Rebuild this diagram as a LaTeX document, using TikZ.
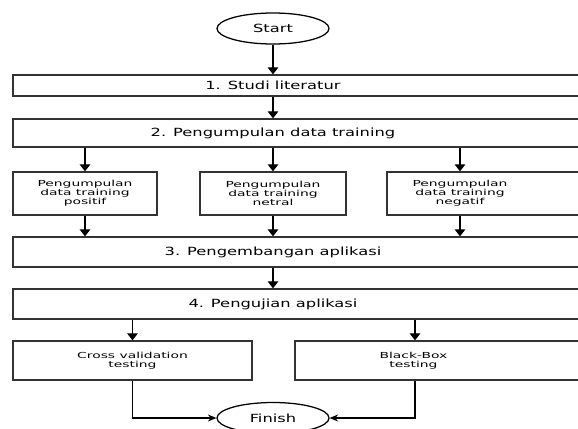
\documentclass[tikz,border=0pt]{standalone}
\usepackage{fontspec}
\newfontfamily\bigfont[FakeStretch=1.45]{DejaVu Sans}
\newfontfamily\smallfont[FakeStretch=1.67]{DejaVu Sans}
\usetikzlibrary{arrows.meta, positioning, shapes.geometric, calc}

\begin{document}
\begin{tikzpicture}[x=0.025cm, y=-0.025cm, >={Triangle[width=7.5pt,length=5pt]}, line width=0.9pt]
            \tikzset{terminal/.style={ellipse, draw, minimum width=2.8cm, minimum height=0.775cm, inner sep=0pt, font={\bigfont\fontsize{8}{9.6}\selectfont}}}
            \tikzset{stage/.style={rectangle, draw=black!80, minimum width=14.675cm, inner sep=0pt}}
            \tikzset{stagetext/.style={font={\bigfont\fontsize{8}{9.6}\selectfont}, xshift=-0.8375cm}}
            \tikzset{subbox/.style={rectangle, draw=black!80, minimum height=1.075cm, inner sep=0pt, align=center, font={\smallfont\fontsize{5.9}{6.3}\selectfont}}}
            \tikzset{testbox/.style={rectangle, draw=black!80, minimum height=0.975cm, inner sep=0pt, align=center, font={\smallfont\fontsize{5.9}{6.3}\selectfont}}}
            \useasboundingbox (0,0) rectangle (578,428);
            \clip (0,0) rectangle (578,428);
            \node[terminal] (st) at (273,28.5) {Start};
            \node[stage, minimum height=0.525cm, label={[stagetext]center:1. Studi literatur}] (s1) at (306.5,85.5) {};
            \node[stage, minimum height=0.7cm, label={[stagetext]center:2. Pengumpulan data training}] (s2) at (306.5,133) {};
            \node[subbox, minimum width=3.6cm] (p1) at (85,193.5) {Pengumpulan\\data training\\positif};
            \node[subbox, minimum width=3.65cm] (p2) at (273,193.5) {Pengumpulan\\data training\\netral};
            \node[subbox, minimum width=5.325cm, label={[xshift=-0.8375cm, align=center, font={\smallfont\fontsize{5.9}{6.3}\selectfont}]center:Pengumpulan\\data training\\negatif}] (p3) at (493.5,193.5) {};
            \node[stage, minimum height=0.75cm, label={[stagetext]center:3. Pengembangan aplikasi}] (s3) at (306.5,252) {};
            \node[stage, minimum height=0.75cm, label={[stagetext]center:4. Pengujian aplikasi}] (s4) at (306.5,304) {};
            \node[testbox, minimum width=5.975cm] (b1) at (132.5,360.5) {Cross validation\\testing};
            \node[testbox, minimum width=7.625cm, label={[xshift=-0.85cm, align=center, font={\smallfont\fontsize{5.9}{6.3}\selectfont}]center:Black-Box\\testing}] (b2) at (447.5,360.5) {};
            \node[terminal] (fin) at (273,418) {Finish};
            \coordinate (c3) at (460,0);
            \coordinate (c4) at (415,0);
            \draw[->] (st) -- (s1.north -| st);
            \draw[->] (s1.south -| st) -- (s2.north -| st);
            \draw[->] (s2.south -| p1) -- (p1);
            \draw[->] (s2.south -| p2) -- (p2);
            \draw[->] (s2.south -| c3) -- (p3.north -| c3);
            \draw[->] (p1) -- (s3.north -| p1);
            \draw[->] (p2) -- (s3.north -| p2);
            \draw[->] (p3.south -| c3) -- (s3.north -| c3);
            \draw[->] (s3.south -| st) -- (s4.north -| st);
            \draw[->] (s4.south -| b1) -- (b1);
            \draw[->] (s4.south -| c4) -- (b2.north -| c4);
            \draw[-{Stealth[length=6pt,width=5pt]}] (b1) |- (fin);
            \draw[-{Stealth[length=6pt,width=5pt]}] (b2.south -| c4) |- (fin);
        \end{tikzpicture}
\end{document}
